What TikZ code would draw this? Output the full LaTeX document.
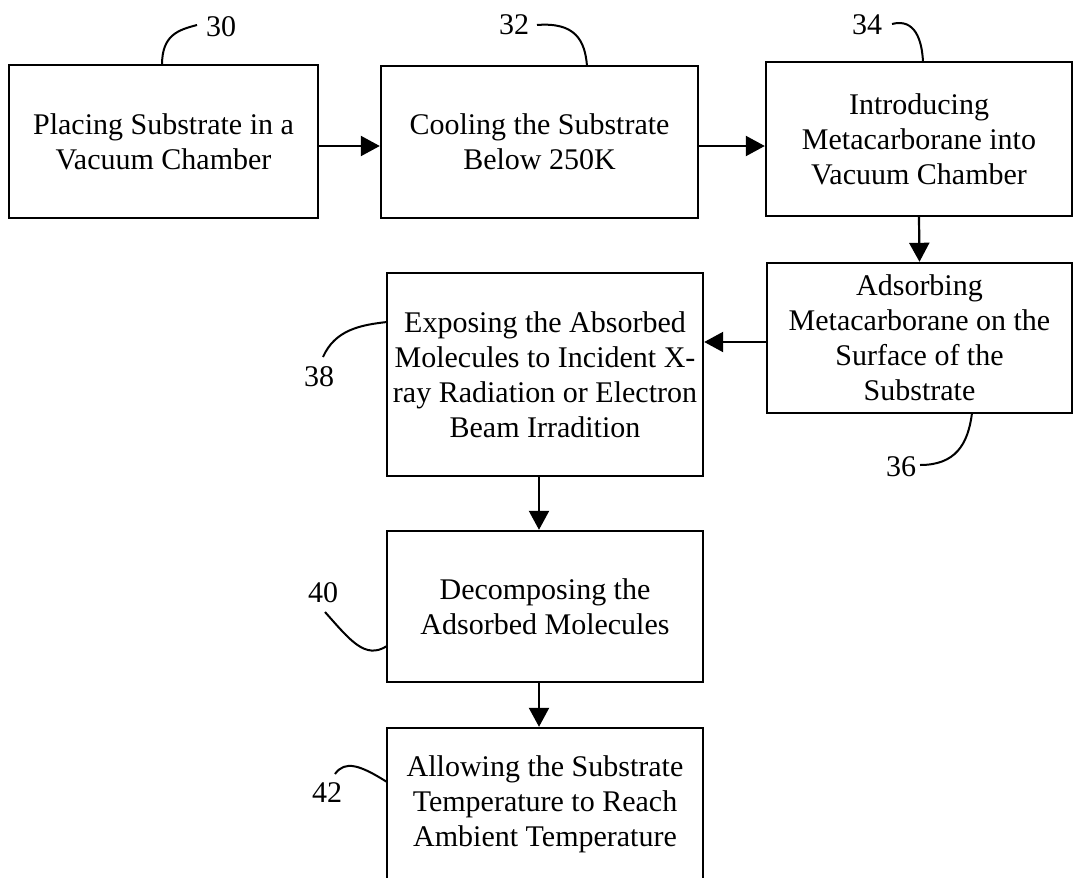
\documentclass[tikz,border=0pt]{standalone}
\usepackage{fontspec}
\setmainfont{Liberation Serif}
\usetikzlibrary{arrows.meta}
\begin{document}
\begin{tikzpicture}[x=1pt,y=-1pt,
  box/.style={draw, line width=2.4pt, inner sep=0pt, align=center, font=\fontsize{30}{35}\selectfont},
  arr/.style={line width=2.2pt, -{Triangle[length=19pt,width=20pt]}},
  lead/.style={line width=2pt},
  lbl/.style={font=\fontsize{30}{35}\selectfont, inner sep=0pt}]
\useasboundingbox (0,0) rectangle (1074,878);
\clip (0,0) rectangle (1074,878);
% boxes
\node[box, minimum width=309pt, minimum height=153pt] (b30) at (163.5,141.5) {Placing Substrate in a\\Vacuum Chamber};
\node[box, minimum width=317pt, minimum height=152pt] (b32) at (539.5,142) {Cooling the Substrate\\Below 250K};
\node[box, minimum width=306pt, minimum height=154pt] (b34) at (919,139) {Introducing\\Metacarborane into\\Vacuum Chamber};
\node[box, minimum width=305pt, minimum height=150pt] (b36) at (919.5,338) {Adsorbing\\Metacarborane on the\\Surface of the\\Substrate};
\node[box, minimum width=316pt, minimum height=203pt] (b38) at (545,374.5) {Exposing the Absorbed\\Molecules to Incident X-\\ray Radiation or Electron\\Beam Irradition};
\node[box, minimum width=316pt, minimum height=151pt] (b40) at (545,606.5) {Decomposing the\\Adsorbed Molecules};
\node[box, minimum width=316pt, minimum height=152pt] (b42) at (545,804) {Allowing the Substrate\\Temperature to Reach\\Ambient Temperature};
% helper coordinates for arrow lines
\coordinate (row1) at (0,146);
\coordinate (row2) at (0,342);
\coordinate (col2) at (539,0);
% arrows
\draw[arr] (b30.east |- row1) -- (b32.west |- row1);
\draw[arr] (b32.east |- row1) -- (b34.west |- row1);
\draw[arr] (b34.south) -- (b36.north);
\draw[arr] (b36.west |- row2) -- (b38.east |- row2);
\draw[arr] (b38.south -| col2) -- (b40.north -| col2);
\draw[arr] (b40.south -| col2) -- (b42.north -| col2);
% reference labels
\node[lbl] (l30) at (221,27) {30};
\node[lbl] (l32) at (514,25) {32};
\node[lbl] (l34) at (867,25) {34};
\node[lbl] (l36) at (901,467) {36};
\node[lbl] (l38) at (319,377) {38};
\node[lbl] (l40) at (323,593) {40};
\node[lbl] (l42) at (327,793) {42};
% leader end points
\coordinate (a30) at (197,25);   \coordinate (e30) at (162,65);
\coordinate (a32) at (537,25);   \coordinate (e32) at (587,66);
\coordinate (a34) at (892,24);   \coordinate (e34) at (923,62);
\coordinate (a36) at (920,465);  \coordinate (e36) at (972,413);
\coordinate (a38) at (323,357);  \coordinate (e38) at (387,322);
\coordinate (a40) at (325,612);  \coordinate (e40) at (387,646);
\coordinate (a42) at (335,774);  \coordinate (e42) at (387,782);
% leaders
\draw[lead] (a30) .. controls (178,30) and (162,35) .. (e30);
\draw[lead] (a32) .. controls (575,22) and (585,40) .. (e32);
\draw[lead] (a34) .. controls (915,18) and (922,40) .. (e34);
\draw[lead] (a36) .. controls (955,465) and (968,445) .. (e36);
\draw[lead] (a38) .. controls (335,330) and (360,325) .. (e38);
\draw[lead] (a40) .. controls (350,640) and (365,660) .. (e40);
\draw[lead] (a42) .. controls (345,760) and (360,765) .. (e42);
\end{tikzpicture}
\end{document}
